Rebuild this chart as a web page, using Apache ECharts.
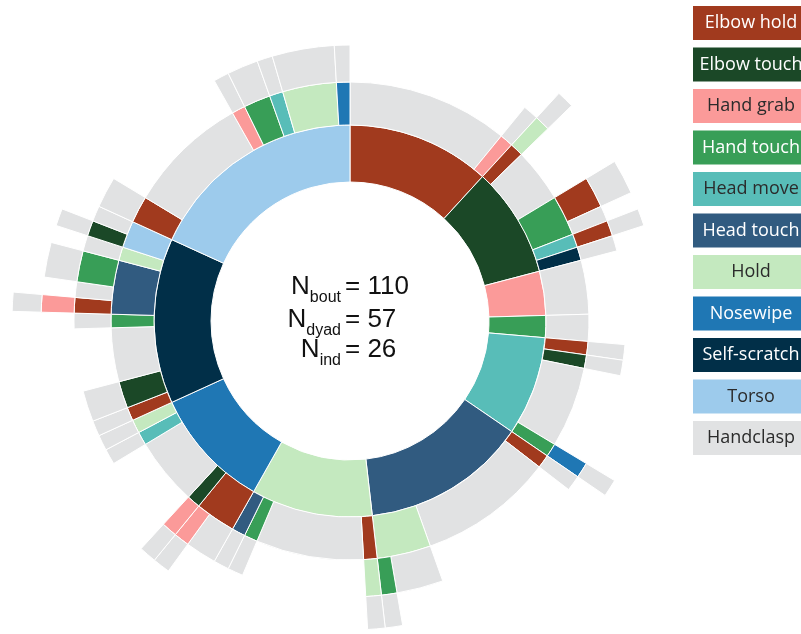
<!DOCTYPE html>
<html>
<head>
<meta charset="utf-8">
<script src="https://cdn.jsdelivr.net/npm/echarts@6/dist/echarts.min.js"></script>
<style>
html, body { margin: 0; padding: 0; background: #fff; }
#chart { width: 801px; height: 634px; }
</style>
</head>
<body>
<div id="chart"></div>
<script>
// gestures, in legend order
const gestures = ['Elbow hold', 'Elbow touch', 'Hand grab', 'Hand touch', 'Head move', 'Head touch', 'Hold', 'Nosewipe', 'Self-scratch', 'Torso', 'Handclasp'];
const gestureColors = ['#a13a1e', '#1b4827', '#fb9a99', '#389e57', '#58bdb8', '#315b80', '#c4e9bf', '#1f77b4', '#012f48', '#9dcbec', '#e1e2e3'];
const whiteText = [true, true, false, true, false, true, false, true, true, false, false];

// bouts grouped by first gesture: [count, next gesture, ...], every bout ends with a handclasp
const elbowHoldBouts = [[12, 'Handclasp'], [1, 'Hand grab', 'Handclasp']];
const elbowTouchBouts = [
    [1, 'Elbow hold', 'Hold', 'Handclasp'], [4, 'Handclasp'],
    [2, 'Hand touch', 'Elbow hold', 'Handclasp'], [1, 'Hand touch', 'Handclasp'],
    [1, 'Head move', 'Elbow hold', 'Handclasp'], [1, 'Self-scratch', 'Handclasp']
];
const handGrabBouts = [[4, 'Handclasp']];
const handTouchBouts = [[2, 'Handclasp']];
const headMoveBouts = [
    [1, 'Elbow hold', 'Handclasp'], [1, 'Elbow touch', 'Handclasp'], [6, 'Handclasp'],
    [1, 'Hand touch', 'Nosewipe', 'Handclasp']
];
const headTouchBouts = [
    [1, 'Elbow hold', 'Handclasp'], [10, 'Handclasp'],
    [3, 'Hold', 'Handclasp'], [1, 'Hold', 'Hand touch', 'Handclasp']
];
const holdBouts = [
    [1, 'Elbow hold', 'Hold', 'Handclasp'], [8, 'Handclasp'],
    [1, 'Hand touch', 'Handclasp'], [1, 'Head touch', 'Handclasp']
];
const nosewipeBouts = [
    [2, 'Elbow hold', 'Handclasp'], [1, 'Elbow hold', 'Hand grab', 'Handclasp'],
    [1, 'Elbow touch', 'Hand grab', 'Handclasp'], [5, 'Handclasp'],
    [1, 'Head move', 'Handclasp'], [1, 'Hold', 'Handclasp']
];
const selfScratchBouts = [
    [1, 'Elbow hold', 'Handclasp'], [2, 'Elbow touch', 'Handclasp'], [4, 'Handclasp'],
    [1, 'Hand touch', 'Handclasp'],
    [1, 'Head touch', 'Elbow hold', 'Hand grab', 'Handclasp'], [1, 'Head touch', 'Handclasp'],
    [2, 'Head touch', 'Hand touch', 'Handclasp'],
    [1, 'Hold', 'Handclasp'],
    [1, 'Torso', 'Elbow touch', 'Handclasp'], [1, 'Torso', 'Handclasp']
];
const torsoBouts = [
    [2, 'Elbow hold', 'Handclasp'], [9, 'Handclasp'], [1, 'Hand grab', 'Handclasp'],
    [2, 'Hand touch', 'Handclasp'], [1, 'Head move', 'Handclasp'],
    [4, 'Hold', 'Handclasp'], [1, 'Nosewipe', 'Handclasp']
];
const firstGestureBouts = [elbowHoldBouts, elbowTouchBouts, handGrabBouts, handTouchBouts, headMoveBouts,
    headTouchBouts, holdBouts, nosewipeBouts, selfScratchBouts, torsoBouts];

// counts in the middle
const countNames = ['bout', 'dyad', 'ind'];
const countValues = [110, 57, 26];

const colorOf = name => gestureColors[gestures.indexOf(name)];

// add one group of bouts along its path, merging with the previous sibling of the same name
function addPath(nodes, path, count) {
    if (!path.length) return;
    let node = nodes.length && nodes[nodes.length - 1].name === path[0] ? nodes[nodes.length - 1] : null;
    if (!node) {
        node = { name: path[0], value: 0, children: [], itemStyle: { color: colorOf(path[0]) } };
        nodes.push(node);
    }
    node.value += count;
    addPath(node.children, path.slice(1), count);
}
function tidy(nodes) {
    nodes.forEach(n => {
        if (n.children.length) tidy(n.children); else delete n.children;
    });
    return nodes;
}

const tree = [];
firstGestureBouts.forEach((bouts, i) => {
    bouts.forEach(b => addPath(tree, [gestures[i]].concat(b.slice(1)), b[0]));
});
tidy(tree);

// legend boxes + centre text as graphics
const graphics = [];
gestures.forEach((g, i) => {
    const y = 6 + i * 41.5;
    graphics.push({
        type: 'rect', shape: { x: 693, y: y, width: 116, height: 34 },
        style: { fill: gestureColors[i] }, silent: true
    });
    graphics.push({
        type: 'text', x: 751, y: y + 17,
        style: {
            text: g, fill: whiteText[i] ? '#ffffff' : '#2b2b2b',
            font: '18px "Open Sans"', align: 'center', verticalAlign: 'middle'
        }, silent: true
    });
});

const ctx = document.createElement('canvas').getContext('2d');
ctx.font = '16px "Liberation Sans"';
const lineY = [287, 319.5, 350];
countNames.forEach((s, i) => {
    const w = ctx.measureText(s).width;
    graphics.push({
        type: 'text', x: 341 - w, y: lineY[i],
        style: { text: 'N', fill: '#111', font: '26px "Liberation Sans"', align: 'right', verticalAlign: 'middle' }
    });
    graphics.push({
        type: 'text', x: 341, y: lineY[i] + 11,
        style: { text: s, fill: '#111', font: '16px "Liberation Sans"', align: 'right', verticalAlign: 'middle' }
    });
    graphics.push({
        type: 'text', x: 345, y: lineY[i],
        style: { text: '= ' + countValues[i], fill: '#111', font: '26px "Liberation Sans"', align: 'left', verticalAlign: 'middle' }
    });
});

const chart = echarts.init(document.getElementById('chart'));
chart.setOption({
    animation: false,
    graphic: graphics,
    series: [{
        type: 'sunburst',
        center: [350, 321],
        radius: [139, 338],
        sort: null,
        startAngle: 90,
        clockwise: true,
        nodeClick: false,
        data: tree,
        label: { show: false },
        itemStyle: { borderColor: '#ffffff', borderWidth: 1 },
        emphasis: { disabled: true },
        levels: [
            {},
            { r0: 139, r: 196 },
            { r0: 196, r: 239 },
            { r0: 239, r: 276 },
            { r0: 276, r: 309 },
            { r0: 309, r: 338 }
        ]
    }]
});
</script>
</body>
</html>
